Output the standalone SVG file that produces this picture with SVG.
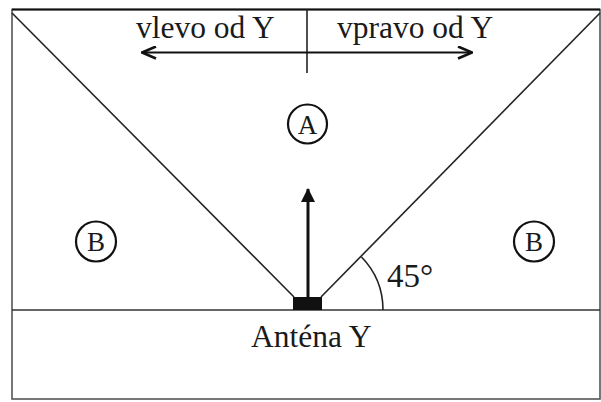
<svg xmlns="http://www.w3.org/2000/svg" width="601" height="402" viewBox="0 0 601 402">
<style>
.t{font-family:"Liberation Serif","Times New Roman",serif;font-size:31.5px;fill:#1a1a1a}
.l{font-family:"Liberation Serif","Times New Roman",serif;font-size:27px;fill:#1a1a1a;text-anchor:middle}
.c{fill:none;stroke:#111;stroke-width:2.2}
.ln{stroke:#222;stroke-width:1.6;fill:none}
</style>
<defs>
<marker id="chev" viewBox="0 0 16 14" refX="15" refY="7" markerWidth="16" markerHeight="14" markerUnits="userSpaceOnUse" orient="auto-start-reverse">
<path d="M1,1 L15,7 L1,13" fill="none" stroke="#111" stroke-width="2.6"/>
</marker>
<marker id="tri" viewBox="0 0 14 14" refX="13" refY="7" markerWidth="14" markerHeight="14" markerUnits="userSpaceOnUse" orient="auto">
<path d="M0,0 L14,7 L0,14 Z" fill="#111"/>
</marker>
</defs>
<rect x="0" y="0" width="601" height="402" fill="#fff"/>
<g id="frame">
<rect x="12" y="9.5" width="588" height="389.5" fill="none" stroke="#555" stroke-width="1.6"/>
<line x1="12" y1="9.5" x2="600" y2="9.5" stroke="#111" stroke-width="2"/>
<line x1="12" y1="310" x2="600" y2="310" stroke="#333" stroke-width="1.6"/>
</g>
<g id="connectors">
<line class="ln" x1="12" y1="13" x2="294" y2="297"/>
<line class="ln" x1="321" y1="297" x2="600" y2="13"/>
<line class="ln" x1="307" y1="9" x2="307" y2="73"/>
<line x1="142" y1="52.5" x2="472" y2="52.5" stroke="#111" stroke-width="2" marker-start="url(#chev)" marker-end="url(#chev)"/>
<line x1="308" y1="297" x2="308" y2="189" stroke="#111" stroke-width="3" marker-end="url(#tri)"/>
<path class="ln" d="M383,310 A76,76 0 0 0 361.5,257"/>
</g>
<g id="label-left"><text class="t" x="136" y="38">vlevo od Y</text></g>
<g id="label-right"><text class="t" x="337" y="38">vpravo od Y</text></g>
<g id="region-A">
<circle class="c" cx="307.5" cy="124" r="19.5"/>
<text class="l" x="307.5" y="133.5">A</text>
</g>
<g id="region-B-left">
<circle class="c" cx="96" cy="241.5" r="20"/>
<text class="l" x="96" y="251">B</text>
</g>
<g id="region-B-right">
<circle class="c" cx="534" cy="241.5" r="20"/>
<text class="l" x="534" y="251">B</text>
</g>
<g id="angle"><text class="t" x="387" y="287" style="font-size:33px">45°</text></g>
<g id="antenna">
<rect x="293" y="297" width="29" height="13" fill="#111"/>
<text class="t" x="251" y="347">Anténa Y</text>
</g>
</svg>
